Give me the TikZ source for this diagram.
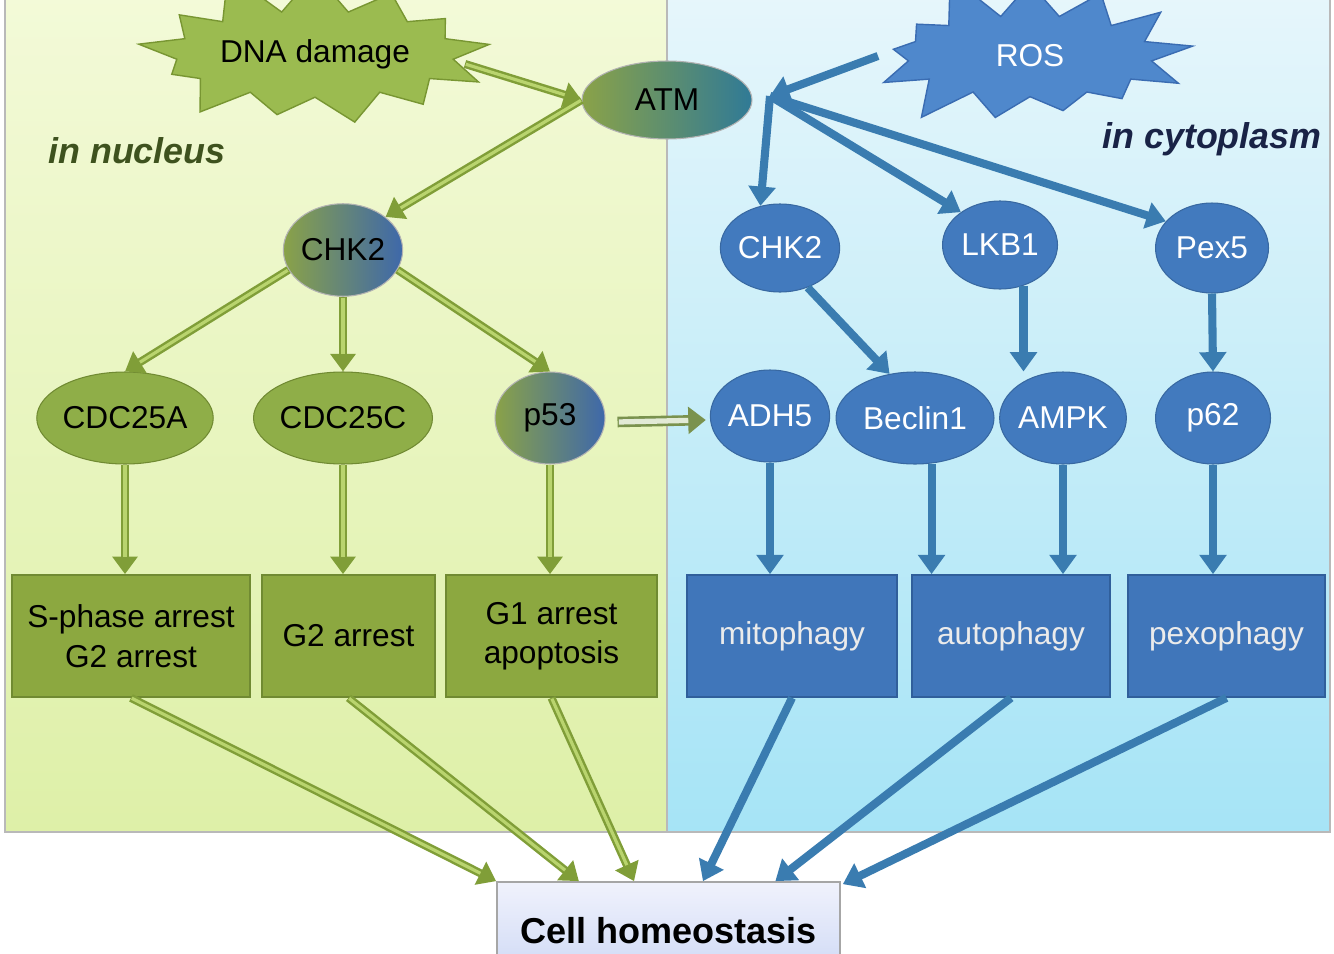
\documentclass[tikz,border=0pt]{standalone}
\usepackage{fontspec}
\setmainfont{Liberation Sans}
\usetikzlibrary{shapes.geometric,shapes.symbols,arrows.meta,calc}
\definecolor{gfill}{RGB}{143,174,72}
\definecolor{gboxc}{RGB}{140,168,64}
\definecolor{gboxb}{RGB}{112,138,50}
\definecolor{gdk}{RGB}{128,158,56}
\definecolor{glt}{RGB}{185,212,110}
\definecolor{bfill}{RGB}{66,122,190}
\definecolor{bboxc}{RGB}{64,118,186}
\definecolor{bboxb}{RGB}{48,95,155}
\definecolor{barrowc}{RGB}{58,124,176}
\definecolor{dnafill}{RGB}{155,187,80}
\definecolor{dnab}{RGB}{120,150,50}
\definecolor{rosfill}{RGB}{79,136,204}
\definecolor{rosb}{RGB}{58,108,178}
\definecolor{bgLt}{RGB}{243,250,216}
\definecolor{bgLb}{RGB}{222,240,168}
\definecolor{bgRt}{RGB}{230,246,251}
\definecolor{bgRb}{RGB}{166,228,246}
\definecolor{cellt}{RGB}{240,242,252}
\definecolor{cellb}{RGB}{205,216,245}
\definecolor{nuctext}{RGB}{62,82,30}
\definecolor{cyttext}{RGB}{25,35,70}
\definecolor{gradg}{RGB}{138,162,72}
\definecolor{gradw}{RGB}{238,242,236}
\definecolor{gradb}{RGB}{62,104,170}
\definecolor{gradteal}{RGB}{48,122,150}
\definecolor{pout}{RGB}{122,146,78}
\definecolor{pin}{RGB}{226,234,214}
\begin{document}
\begin{tikzpicture}[x=0.02cm,y=-0.02cm,
  every node/.style={font=\fontsize{18}{22.5}\selectfont, inner sep=0pt},
  gnode/.style={ellipse, fill=gfill, draw=gboxb, line width=0.6pt, text=black},
  gradnode/.style={ellipse, draw=gray!60, line width=0.6pt, left color=gradg, middle color=gradw, right color=gradb, text=black},
  bnode/.style={ellipse, fill=bfill, draw=bfill!85!black, line width=0.6pt, text=white},
  gbox/.style={rectangle, fill=gboxc, draw=gboxb, line width=1pt, align=center, text=black, minimum height=2.44cm},
  bbox/.style={rectangle, fill=bboxc, draw=bboxb, line width=1pt, align=center, text=white!92!black, minimum height=2.44cm},
  garrow/.style={draw=gdk, line width=4.6pt, -{Triangle[length=10pt,width=14pt]},
     postaction={draw=glt, line width=1.8pt, -, shorten >=10pt, shorten <=0.5pt}},
  parrow/.style={draw=pout, line width=6pt, -{Triangle[length=10pt,width=15pt]},
     postaction={draw=pin, line width=3pt, -, shorten >=10pt, shorten <=0.8pt}},
  barrow/.style={draw=barrowc, line width=4.6pt, -{Triangle[length=11pt,width=15pt]}},
  region/.style={font=\fontsize{20.4}{24}\selectfont\bfseries\itshape}
]
\clip (0,0) rectangle (1334,953);
\fill[white] (0,0) rectangle (1334,953);
% panels
\path[top color=bgLt, bottom color=bgLb, draw=gray!55, line width=1.2pt] (5,-5) rectangle (667,832);
\path[top color=bgRt, bottom color=bgRb, draw=gray!55, line width=1.2pt] (667,-5) rectangle (1330,832);

% region labels
\node[region, text=nuctext] (lnuc) at (137,151) {in nucleus};
\node[region, text=cyttext] (lcyt) at (1212,139) {in cytoplasm};

% stress signals
\node[starburst, starburst points=13, starburst point height=1.0cm, random starburst=11,
      inner xsep=2pt, inner ysep=9pt,
      minimum width=7cm, minimum height=2.6cm, fill=dnafill, draw=dnab, line width=0.8pt] (DNA) at (315,54) {DNA damage};
\node[starburst, starburst points=13, starburst point height=1.05cm, random starburst=5,
      inner xsep=2pt, inner ysep=10pt,
      minimum width=7cm, minimum height=2.7cm, fill=rosfill, draw=rosb, line width=0.8pt, text=white] (ROS) at (1030,56) {ROS};

% ATM
\node[ellipse, draw=gray!60, line width=0.6pt, left color=gradg, middle color=gradw, right color=gradteal,
      minimum width=3.4cm, minimum height=1.56cm] (ATM) at (667,100) {ATM};
\coordinate (hub) at (770,96);

% nucleus nodes
\node[gradnode, minimum width=2cm, minimum height=1.85cm] (CHK2L) at (343,250) {CHK2};
\node[gnode, minimum width=2.95cm, minimum height=1.84cm] (CDC25A) at (125,418) {CDC25A};
\node[gnode, minimum width=3.25cm, minimum height=1.84cm] (CDC25C) at (343,418) {CDC25C};
\node[gradnode, minimum width=2.2cm, minimum height=1.84cm] (p53) at (550,418) {p53};

% cytoplasm nodes
\node[bnode, minimum width=2.3cm, minimum height=1.76cm] (CHK2R) at (780,248) {CHK2};
\node[bnode, minimum width=2.3cm, minimum height=1.76cm] (LKB1) at (1000,245) {LKB1};
\node[bnode, minimum width=2.26cm, minimum height=1.8cm] (Pex5) at (1212,248) {Pex5};
\node[bnode, minimum width=2.24cm, minimum height=1.84cm] (ADH5) at (770,416) {ADH5};
\node[bnode, minimum width=3.16cm, minimum height=1.84cm] (Beclin1) at (915,418) {Beclin1};
\node[bnode, minimum width=2.36cm, minimum height=1.84cm] (AMPK) at (1063,418) {AMPK};
\node[bnode, minimum width=2.3cm, minimum height=1.84cm] (p62) at (1213,418) {p62};

% outcome boxes
\node[gbox, minimum width=4.76cm] (Sbox) at (131,636) {S-phase arrest\\G2 arrest};
\node[gbox, minimum width=3.46cm] (G2box) at (348.5,636) {G2 arrest};
\node[gbox, minimum width=4.22cm] (G1box) at (551.5,636) {G1 arrest\\apoptosis};
\node[bbox, minimum width=4.2cm] (Mbox) at (792,636) {mitophagy};
\node[bbox, minimum width=3.96cm] (Abox) at (1011,636) {autophagy};
\node[bbox, minimum width=3.94cm] (Pbox) at (1226.5,636) {pexophagy};

% cell homeostasis
\node[rectangle, top color=cellt, bottom color=cellb, draw=gray!70, line width=1pt,
      minimum width=6.86cm, minimum height=1.96cm,
      font=\fontsize{20.5}{24}\selectfont\bfseries] (Cell) at (668.5,931) {Cell homeostasis};

% green arrows
\draw[garrow] ($(DNA.center)+(150,10)$) -- (ATM.west);
\draw[garrow] (ATM.west) -- (CHK2L.north east);
\draw[garrow] (CHK2L.200) -- (CDC25A.north);
\draw[garrow] (CHK2L.south) -- (CDC25C.north);
\draw[garrow] (CHK2L.-20) -- (p53.north);
\draw[garrow] (CDC25A.south) -- (CDC25A.south |- Sbox.north);
\draw[garrow] (CDC25C.south) -- (CDC25C.south |- G2box.north);
\draw[garrow] (p53.south) -- (p53.south |- G1box.north);
\draw[parrow] ($(p53.east)+(12,4)$) -- ($(ADH5.west)+(-4,4)$);
\draw[garrow] (Sbox.south) -- (Cell.north west);
\draw[garrow] (G2box.south) -- ($(Cell.north west)!0.24!(Cell.north east)$);
\draw[garrow] (G1box.south) -- ($(Cell.north west)!0.4!(Cell.north east)$);

% blue arrows
\draw[barrow] ($(ROS.center)+(-152,0)$) -- (hub);
\draw[barrow] (hub) -- (CHK2R.115);
\draw[barrow] (hub) -- (LKB1.140);
\draw[barrow] (hub) -- (Pex5.150);
\draw[barrow] (CHK2R.-55) -- (Beclin1.120);
\draw[barrow] (LKB1.-60) -- (LKB1.-60 |- AMPK.north);
\draw[barrow] (Pex5.south) -- (p62.north);
\draw[barrow] (ADH5.south) -- (ADH5.south |- Mbox.north);
\draw[barrow] (Beclin1.-70) -- (Beclin1.-70 |- Abox.north);
\draw[barrow] (AMPK.south) -- (AMPK.south |- Abox.north);
\draw[barrow] (p62.south) -- (p62.south |- Pbox.north);
\draw[barrow] (Mbox.south) -- ($(Cell.north west)!0.6!(Cell.north east)$);
\draw[barrow] (Abox.south) -- ($(Cell.north west)!0.81!(Cell.north east)$);
\draw[barrow] (Pbox.south) -- ($(Cell.north east)+(2,3)$);
\end{tikzpicture}
\end{document}
